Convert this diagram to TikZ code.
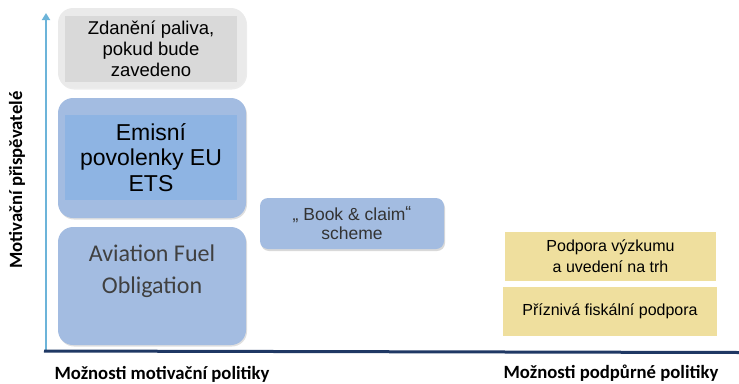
\documentclass[tikz,border=0pt]{standalone}
\usepackage{fontspec}
\setmainfont{Liberation Sans}
\newfontfamily\calibri{Carlito}
\usetikzlibrary{arrows.meta}
\usetikzlibrary{shadows}
\definecolor{boxblue}{HTML}{A3BCE1}
\definecolor{etsblue}{HTML}{8EB4E3}
\definecolor{taxgray}{HTML}{D9D9D9}
\definecolor{taxrim}{HTML}{EAEAEA}
\definecolor{supyellow}{HTML}{EFDF9E}
\definecolor{axisblue}{HTML}{6CB4D9}
\definecolor{axisnavy}{HTML}{1F3864}
\definecolor{darktext}{HTML}{404040}
\tikzset{
    policybox/.style={rounded corners=15pt, minimum width=188pt, inner sep=0pt, align=center},
    innerbox/.style={minimum width=172pt, inner sep=0pt, align=center},
    yellowbox/.style={fill=supyellow, minimum width=212pt, minimum height=49pt, inner sep=0pt, align=center,
        font=\fontsize{16}{21}\selectfont},
    axistitle/.style={font=\calibri\bfseries\fontsize{18.7}{20}\selectfont}
}
\begin{document}
\begin{tikzpicture}[x=1pt, y=-1pt]
        \useasboundingbox (0,0) rectangle (739,383);
        \begin{scope}[every node/.style={policybox}]
            \node[fill=taxrim, minimum height=80pt,
                  drop shadow={opacity=0.15, shadow xshift=1pt, shadow yshift=-1.5pt}]
                (tax) at (152,48) {};
            \node[fill=boxblue, minimum height=120pt,
                  drop shadow={opacity=0.25, shadow xshift=1pt, shadow yshift=-1.5pt}]
                (ets) at (152,158) {};
            \node[fill=boxblue, minimum height=118pt,
                  drop shadow={opacity=0.25, shadow xshift=1pt, shadow yshift=-1.5pt},
                  label={[text=darktext, align=center, yshift=15pt,
                          font=\calibri\fontsize{24}{32}\selectfont]center:{Aviation Fuel\\Obligation}}]
                (afo) at (152,286) {};
        \end{scope}
        \begin{scope}[every node/.style={innerbox}]
            \node[fill=taxgray, minimum height=66pt, font=\fontsize{18.5}{21}\selectfont]
                (taxtext) at (151,49) {Zdanění paliva,\\pokud bude\\zavedeno};
            \node[fill=etsblue, minimum height=85pt, font=\fontsize{23}{25.5}\selectfont]
                (etstext) at (151,157.5) {Emisní\\povolenky EU\\ETS};
        \end{scope}
        \node[policybox, rounded corners=8pt, fill=boxblue, minimum width=184pt, minimum height=51pt,
              text=darktext!80!black, font=\fontsize{17.5}{19}\selectfont,
              drop shadow={opacity=0.3, shadow xshift=1pt, shadow yshift=-2pt}]
            (book) at (352,223.5) {„ Book \& claim\raisebox{2pt}{“}\\scheme};
        \node[yellowbox, minimum width=211pt] (research) at (610.5,256.5) {Podpora výzkumu\\a uvedení na trh};
        \node[yellowbox, minimum width=214pt] (fiscal) at (610,311.5) {Příznivá fiskální podpora};
        \coordinate (ybot) at (46,350);
        \coordinate (ytop) at (46,13);
        \coordinate (xleft) at (44,351);
        \coordinate (xright) at (739,352.5);
        \draw[axisblue, line width=2.5pt, -{Triangle[length=7pt, width=8pt]}] (ybot) -- (ytop);
        \draw[axisnavy, line width=3pt] (xleft) -- (xright);
        \node[axistitle, rotate=90] (ylabel) at (17,180) {Motivační přispěvatelé};
        \node[axistitle] (motiv) at (162,374) {Možnosti motivační politiky};
        \node[axistitle] (support) at (611,373) {Možnosti podpůrné politiky};
    \end{tikzpicture}
\end{document}
